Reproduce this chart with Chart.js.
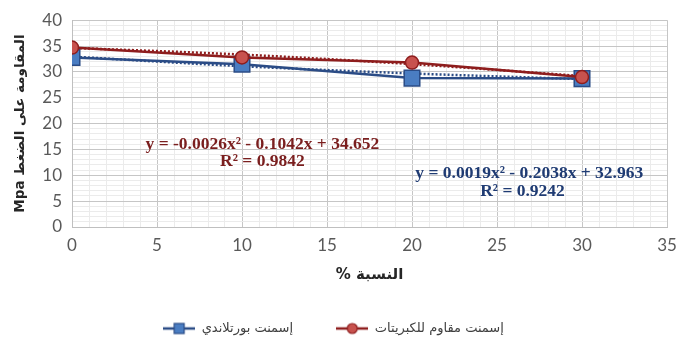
<!DOCTYPE html>
<html>
<head>
<meta charset="utf-8">
<style>
  html, body { margin: 0; padding: 0; background: #fff; }
</style>
<script src="https://cdn.jsdelivr.net/npm/chart.js@4.4.0/dist/chart.umd.min.js"></script>
</head>
<body>
<canvas id="chart" width="691" height="340"></canvas>
<script>
// Data
const ratios = [0, 10, 20, 30];
const portland = [32.8, 31.5, 28.8, 28.7];
const sulfate = [34.7, 32.8, 31.8, 29.0];
const portlandTrend = [32.96, 31.1, 29.7, 28.6];
const sulfateTrend = [34.65, 33.35, 31.5, 29.2];
const seriesNames = ['إسمنت بورتلاندي', 'إسمنت مقاوم للكبريتات'];
const xTitle = '% النسبة';
const yTitle = 'Mpa المقاومة على الضغط';
const portlandEq = ['y = 0.0019x² - 0.2038x + 32.963', 'R² = 0.9242'];
const sulfateEq = ['y = -0.0026x² - 0.1042x + 34.652', 'R² = 0.9842'];

const BLUE_LINE = '#2B4C86';
const BLUE_FILL = '#4A7DC2';
const RED_LINE = '#8E1D1D';
const RED_FILL = '#C8524E';
const ARABIC_FONT = '"DejaVu Sans", sans-serif';

function toPoints(values) {
    return ratios.map((r, i) => ({ x: r, y: values[i] }));
}

// Legend icon: short line with the marker in the middle
function makeIcon(shape, line, fill) {
    const c = document.createElement('canvas');
    c.width = 32;
    c.height = 14;
    const g = c.getContext('2d');
    g.strokeStyle = line;
    g.lineWidth = 2.5;
    g.beginPath();
    g.moveTo(0, 7);
    g.lineTo(32, 7);
    g.stroke();
    g.fillStyle = fill;
    g.lineWidth = 1.2;
    if (shape === 'rect') {
        g.fillRect(11, 2, 10, 10);
        g.strokeRect(11, 2, 10, 10);
    } else {
        g.beginPath();
        g.arc(16, 7, 5, 0, Math.PI * 2);
        g.fill();
        g.stroke();
    }
    return c;
}
const icons = [makeIcon('rect', BLUE_LINE, BLUE_FILL), makeIcon('circle', RED_LINE, RED_FILL)];

// Trendline equations written inside the plot
const equationPlugin = {
    id: 'equations',
    afterDatasetsDraw(chart) {
        const { ctx, scales: { x, y } } = chart;
        const notes = [
            { lines: sulfateEq, color: '#7A1E1E', at: [[11.2, 16.0], [11.2, 12.6]] },
            { lines: portlandEq, color: '#1F3B73', at: [[26.9, 10.4], [26.5, 6.8]] }
        ];
        ctx.save();
        ctx.font = 'bold 17.5px "Liberation Serif", serif';
        ctx.textAlign = 'center';
        ctx.textBaseline = 'middle';
        notes.forEach(n => {
            ctx.fillStyle = n.color;
            n.lines.forEach((t, i) => {
                ctx.fillText(t, x.getPixelForValue(n.at[i][0]), y.getPixelForValue(n.at[i][1]));
            });
        });
        ctx.restore();
    }
};

function gridColor(ctx) {
    return ctx.tick && ctx.tick.value % 5 === 0 ? '#C6C6C6' : '#EBEBEB';
}

new Chart(document.getElementById('chart'), {
    type: 'line',
    data: {
        datasets: [
            {
                label: seriesNames[0],
                data: toPoints(portland),
                borderColor: BLUE_LINE,
                backgroundColor: BLUE_FILL,
                borderWidth: 2.5,
                pointStyle: 'rect',
                pointRadius: 11,
                pointBorderWidth: 1.5,
                pointBorderColor: BLUE_LINE,
                order: 1
            },
            {
                label: seriesNames[1],
                data: toPoints(sulfate),
                borderColor: RED_LINE,
                backgroundColor: RED_FILL,
                borderWidth: 2.5,
                pointStyle: 'circle',
                pointRadius: 6.5,
                pointBorderWidth: 1.5,
                pointBorderColor: RED_LINE,
                order: 0
            },
            {
                label: 'trend1',
                data: toPoints(portlandTrend),
                borderColor: BLUE_LINE,
                borderWidth: 2.5,
                borderDash: [2, 2],
                pointRadius: 0,
                cubicInterpolationMode: 'monotone',
                order: 2
            },
            {
                label: 'trend2',
                data: toPoints(sulfateTrend),
                borderColor: RED_LINE,
                borderWidth: 2.5,
                borderDash: [2, 2],
                pointRadius: 0,
                cubicInterpolationMode: 'monotone',
                order: 2
            }
        ]
    },
    options: {
        responsive: false,
        animation: false,
        layout: { padding: { left: 0, right: 24, top: 18, bottom: -5 } },
        plugins: {
            tooltip: { enabled: false },
            legend: {
                position: 'bottom',
                labels: {
                    usePointStyle: true,
                    pointStyleWidth: 32,
                    padding: 6,
                    color: '#404040',
                    font: { family: ARABIC_FONT, size: 13 },
                    generateLabels: () => [0, 1].map(i => ({
                        // a few no-break spaces keep the gap between the two items
                        text: i === 0 ? seriesNames[i] + '\u00A0'.repeat(9) : seriesNames[i],
                        pointStyle: icons[i],
                        lineWidth: 0,
                        hidden: false,
                        datasetIndex: i,
                        fontColor: '#404040'
                    }))
                }
            }
        },
        scales: {
            x: {
                type: 'linear',
                min: 0,
                max: 35,
                afterFit: s => { s.height = 89; },
                ticks: {
                    stepSize: 1,
                    autoSkip: false,
                    maxRotation: 0,
                    padding: 8,
                    color: '#595959',
                    font: { family: 'Lato', size: 17 },
                    callback: v => (v % 5 === 0 ? v : '')
                },
                grid: { color: gridColor, drawTicks: false },
                border: { color: '#BFBFBF' },
                title: {
                    display: true,
                    text: xTitle,
                    color: '#262626',
                    font: { family: ARABIC_FONT, size: 15, weight: 'bold' },
                    padding: { top: 0, bottom: 32 }
                }
            },
            y: {
                min: 0,
                max: 40,
                afterFit: s => { s.width = 72; },
                ticks: {
                    stepSize: 1,
                    autoSkip: false,
                    padding: 10,
                    color: '#595959',
                    font: { family: 'Lato', size: 17 },
                    callback: v => (v % 5 === 0 ? v : '')
                },
                grid: { color: gridColor, drawTicks: false },
                border: { color: '#BFBFBF' },
                title: {
                    display: true,
                    text: yTitle,
                    color: '#262626',
                    font: { family: ARABIC_FONT, size: 13.5, weight: 'bold' },
                    padding: { top: 12, bottom: 0 }
                }
            }
        }
    },
    plugins: [equationPlugin]
});
</script>
</body>
</html>
